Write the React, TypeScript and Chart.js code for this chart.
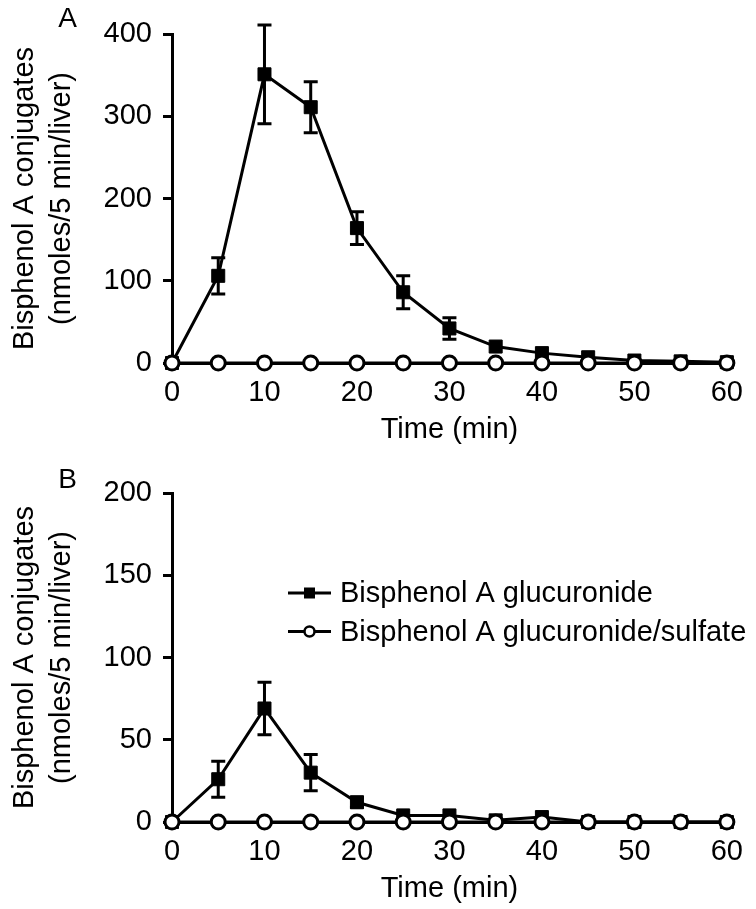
import React, { useEffect, useRef } from 'react';
import { Chart, registerables } from 'chart.js';

Chart.register(...registerables);

// ---- Data ----
const timeMin = [0, 5, 10, 15, 20, 25, 30, 35, 40, 45, 50, 55, 60];
const xTicks = [0, 10, 20, 30, 40, 50, 60];

// Panel A
const glucA = [0, 106, 351, 311, 164, 86, 42, 20, 12, 7, 3, 2, 1];
const glucAErr = [0, 22, 60, 31, 20, 20, 13, 0, 0, 0, 0, 0, 0];
const sulfA = [0, 0, 0, 0, 0, 0, 0, 0, 0, 0, 0, 0, 0];
const yTicksA = [0, 100, 200, 300, 400];

// Panel B
const glucB = [0, 26, 69, 30, 12, 4, 4, 1, 3, 0, 0, 0, 0];
const glucBErr = [0, 11, 16, 11, 3, 0, 0, 0, 0, 0, 0, 0, 0];
const sulfB = [0, 0, 0, 0, 0, 0, 0, 0, 0, 0, 0, 0, 0];
const yTicksB = [0, 50, 100, 150, 200];

const seriesNames = ['Bisphenol A glucuronide', 'Bisphenol A glucuronide/sulfate'];
const yTitle = ['Bisphenol A conjugates', '(nmoles/5 min/liver)'];
const xTitle = 'Time (min)';

const FONT = "'Liberation Sans', Arial, Helvetica, sans-serif";
const FS = 29;

function toPoints(vals: number[]) {
  return timeMin.map((t, i) => ({ x: t, y: vals[i] }));
}

function buildConfig(
  letter: string,
  yTicks: number[],
  gluc: number[],
  err: number[],
  sulf: number[],
  withLegend: boolean
): any {
  const yMin = yTicks[0];
  const yMax = yTicks[yTicks.length - 1];
  const yStep = yTicks[1] - yTicks[0];

  const errorBars = {
    id: 'errorBars' + letter,
    beforeDatasetsDraw(chart: any) {
      const meta = chart.getDatasetMeta(1);
      const ys = chart.scales.y;
      const ctx = chart.ctx;
      ctx.save();
      ctx.strokeStyle = '#000';
      ctx.lineWidth = 3;
      meta.data.forEach((pt: any, i: number) => {
        const e = err[i];
        if (!e) return;
        const x = pt.x;
        const yt = ys.getPixelForValue(gluc[i] + e);
        const yb = ys.getPixelForValue(gluc[i] - e);
        ctx.beginPath();
        ctx.moveTo(x, yt);
        ctx.lineTo(x, yb);
        ctx.moveTo(x - 7, yt);
        ctx.lineTo(x + 7, yt);
        ctx.moveTo(x - 7, yb);
        ctx.lineTo(x + 7, yb);
        ctx.stroke();
      });
      ctx.restore();
    },
  };

  const decorations = {
    id: 'decor' + letter,
    afterDraw(chart: any) {
      const ctx = chart.ctx;
      ctx.save();
      ctx.fillStyle = '#000';
      ctx.font = `28px ${FONT}`;
      ctx.textAlign = 'center';
      ctx.textBaseline = 'alphabetic';
      ctx.fillText(letter, 67.5, letter === 'A' ? 27 : 29);
      if (withLegend) {
        const rows = [134, 172.5];
        rows.forEach((y, r) => {
          ctx.strokeStyle = '#000';
          ctx.lineWidth = 3;
          ctx.beginPath();
          ctx.moveTo(288, y);
          ctx.lineTo(331, y);
          ctx.stroke();
          if (r === 0) {
            ctx.fillStyle = '#000';
            ctx.fillRect(304, y - 5.5, 11, 11);
          } else {
            ctx.beginPath();
            ctx.arc(309.5, y, 5, 0, Math.PI * 2);
            ctx.fillStyle = '#fff';
            ctx.fill();
            ctx.lineWidth = 2.5;
            ctx.stroke();
          }
          ctx.fillStyle = '#000';
          ctx.font = `${FS}px ${FONT}`;
          ctx.textAlign = 'left';
          ctx.textBaseline = 'middle';
          ctx.fillText(seriesNames[r], 340, y + 1);
        });
      }
      ctx.restore();
    },
  };

  return {
    type: 'line',
    data: {
      datasets: [
        {
          label: seriesNames[1],
          data: toPoints(sulf),
          borderColor: '#000',
          borderWidth: 3,
          pointStyle: 'circle',
          pointRadius: 7,
          pointBorderWidth: 3,
          pointBackgroundColor: '#fff',
          pointBorderColor: '#000',
          tension: 0,
          clip: false,
          order: 0,
        },
        {
          label: seriesNames[0],
          data: toPoints(gluc),
          borderColor: '#000',
          borderWidth: 3,
          pointStyle: 'rect',
          pointRadius: 9.2,
          pointBorderWidth: 1,
          pointBackgroundColor: '#000',
          pointBorderColor: '#000',
          tension: 0,
          clip: false,
          order: 1,
        },
      ],
    },
    options: {
      animation: false,
      responsive: false,
      maintainAspectRatio: false,
      events: [],
      layout: { padding: { top: 34, right: 19, left: 0, bottom: 0 } },
      plugins: {
        legend: { display: false },
        tooltip: { enabled: false },
        title: { display: false },
      },
      scales: {
        x: {
          type: 'linear',
          min: 0,
          max: 60,
          afterBuildTicks(scale: any) {
            scale.ticks = xTicks.map((v) => ({ value: v }));
          },
          afterFit(scale: any) {
            scale.height = 87;
          },
          grid: { display: false, drawTicks: false },
          border: { display: true, color: '#000', width: 3 },
          ticks: {
            color: '#000',
            font: { family: FONT, size: FS },
            padding: 13,
            maxRotation: 0,
            autoSkip: false,
          },
          title: {
            display: true,
            text: xTitle,
            color: '#000',
            font: { family: FONT, size: FS },
            padding: { top: 0, bottom: 3 },
          },
        },
        y: {
          type: 'linear',
          min: yMin,
          max: yMax,
          afterBuildTicks(scale: any) {
            scale.ticks = yTicks.map((v) => ({ value: v }));
          },
          afterFit(scale: any) {
            scale.width = 172;
          },
          grid: {
            display: true,
            drawOnChartArea: false,
            drawTicks: true,
            tickLength: 9,
            tickWidth: 3,
            tickColor: '#000',
          },
          border: { display: true, color: '#000', width: 3 },
          ticks: {
            color: '#000',
            font: { family: FONT, size: FS },
            padding: 11,
            stepSize: yStep,
            autoSkip: false,
          },
          title: {
            display: true,
            text: yTitle,
            color: '#000',
            font: { family: FONT, size: FS, lineHeight: 1.28 },
            padding: { top: 6, bottom: 0 },
          },
        },
      },
    },
    plugins: [errorBars, decorations],
  };
}

function Panel(props: { top: number; config: () => any }) {
  const ref = useRef<HTMLCanvasElement | null>(null);
  useEffect(() => {
    if (!ref.current) return;
    const chart = new Chart(ref.current, props.config());
    return () => chart.destroy();
  }, []);
  return (
    <div style={{ position: 'absolute', left: 0, top: props.top, width: 756, height: 450 }}>
      <canvas ref={ref} width={756} height={450} style={{ width: 756, height: 450, display: 'block' }} />
    </div>
  );
}

export default function App() {
  return (
    <div style={{ position: 'fixed', left: 0, top: 0, width: 756, height: 909, background: '#fff', overflow: 'hidden' }}>
      <Panel top={0} config={() => buildConfig('A', yTicksA, glucA, glucAErr, sulfA, false)} />
      <Panel top={459} config={() => buildConfig('B', yTicksB, glucB, glucBErr, sulfB, true)} />
    </div>
  );
}
